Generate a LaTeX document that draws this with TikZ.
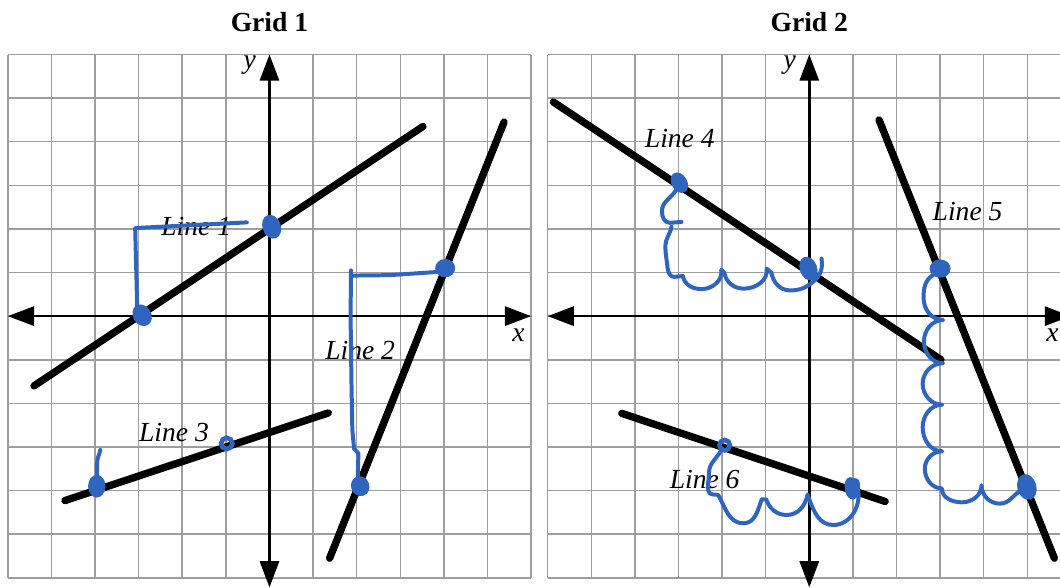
\documentclass[tikz,border=0pt]{standalone}
\usepackage{fontspec}
\setmainfont{Liberation Serif}
\usepackage{xcolor}
\usepackage{tikz}
\usetikzlibrary{arrows.meta}
\definecolor{gridgray}{RGB}{158,158,158}
\definecolor{penblue}{RGB}{47,101,190}
\tikzset{
  gridln/.style={draw=gridgray, line width=1pt},
  axis/.style={{Triangle[length=0.6cm, width=0.44cm]}-{Triangle[length=0.6cm, width=0.44cm]},
    line width=1.6pt},
  graphln/.style={line width=4.8pt, line cap=round},
  pen/.style={draw=penblue, line width=2.6pt, line cap=round, line join=round},
  dotfill/.style={fill=penblue},
  dotring/.style={draw=penblue, line width=3pt},
  lbl/.style={font=\fontsize{18}{20}\selectfont\itshape, inner sep=1pt},
  ttl/.style={font=\fontsize{18}{20}\selectfont\bfseries, inner sep=1pt},
}

\begin{document}
\begin{tikzpicture}
\useasboundingbox (-6.18,-6.22) rectangle (18.13,7.25);
\clip (-6.18,-6.22) rectangle (18.13,7.25);

% Grid 1
\begin{scope}
  \draw[gridln] (-6,-6) grid (6,6);
  \draw[axis] (-6,0) -- (6,0);
  \draw[axis] (0,-6.22) -- (0,6);
  \node[ttl] (title1) at (0,6.74) {Grid 1};
  \node[lbl] (xlab1) at (5.71,-0.44) {x};
  \node[lbl] (ylab1) at (-0.45,5.76) {y};
  % the three lines
  \draw[graphln] (-5.4,-1.6) -- (3.52,4.35);
  \draw[graphln] (1.38,-5.55) -- (5.38,4.45);
  \draw[graphln] (-4.69,-4.23) -- (1.35,-2.22);
  \node[lbl] (line1lbl) at (-1.68,2.06) {Line 1};
  \node[lbl] (line2lbl) at (2.08,-0.78) {Line 2};
  \node[lbl] (line3lbl) at (-2.19,-2.68) {Line 3};
  % pen marks
  \draw[pen] (-3.03,0.06) -- (-3.08,2.02) -- (-0.52,2.15);
  \draw[pen] (2.02,-3.85) -- (2.04,-3.15) -- (1.94,-3.04) -- (1.9,-2.6)
    -- (1.88,-1.5) -- (1.86,0) -- (1.87,1.05);
  \draw[pen] (1.9,0.93) -- (2.76,0.94) -- (3.95,1.02);
  \draw[pen] (-3.95,-3.8) -- (-3.95,-3.35) to[out=90,in=-100] (-3.88,-3.07);
  \fill[dotfill, rotate around={30:(-2.92,0.02)}] (-2.92,0.02) ellipse [x radius=0.21, y radius=0.26];
  \fill[dotfill, rotate around={20:(0.05,2.05)}] (0.05,2.05) ellipse [x radius=0.21, y radius=0.28];
  \fill[dotfill] (4.03,1.1) ellipse [x radius=0.23, y radius=0.21];
  \fill[dotfill, rotate around={20:(2.08,-3.9)}] (2.08,-3.9) ellipse [x radius=0.21, y radius=0.23];
  \fill[dotfill] (-3.96,-3.9) ellipse [x radius=0.2, y radius=0.26];
  \draw[dotring] (-0.98,-2.92) circle [radius=0.13];
\end{scope}

% Grid 2
\begin{scope}[xshift=12.38cm]
  \draw[gridln] (-6,-6) grid (6,6);
  \draw[axis] (-6,0) -- (6,0);
  \draw[axis] (0,-6.22) -- (0,6);
  \node[ttl] (title2) at (0,6.74) {Grid 2};
  \node[lbl] (xlab2) at (5.58,-0.44) {x};
  \node[lbl] (ylab2) at (-0.45,5.76) {y};
  % the three lines
  \draw[graphln] (-5.87,4.91) -- (3.02,-1.0);
  \draw[graphln] (1.6,4.5) -- (5.62,-5.55);
  \draw[graphln] (-4.3,-2.23) -- (1.74,-4.25);
  \node[lbl] (line4lbl) at (-2.97,4.08) {Line 4};
  \node[lbl] (line5lbl) at (3.63,2.41) {Line 5};
  \node[lbl] (line6lbl) at (-2.40,-3.74) {Line 6};
  % pen marks, line 4
  \draw[pen] (-3.05,2.9) to[out=-120,in=90] (-3.38,2.4)
    to[out=-90,in=180] (-3.2,2.14) -- (-2.93,2.16);
  \draw[pen] (-3.16,2.05) to[out=-100,in=90] (-3.3,1.6)
    to[out=-90,in=95] (-3.25,1.1) to[out=-80,in=180] (-3.1,0.9) -- (-2.9,0.92);
  \draw[pen] (-2.9,0.92) to[out=-80,in=180] (-2.47,0.62) to[out=0,in=-80] (-2.02,1.06)
    -- (-1.95,1.0) to[out=-80,in=180] (-1.5,0.63) to[out=0,in=-80] (-0.98,1.09)
    -- (-0.87,1.0) to[out=-80,in=180] (-0.44,0.59) to[out=0,in=-140] (0.09,0.79)
    to[out=40,in=-80] (0.28,1.32);
  % pen marks, line 5
  \draw[pen] (2.85,0.95) to[out=-150,in=90] (2.62,0.42) to[out=-90,in=180] (3.07,-0.09)
    to[out=180,in=90] (2.63,-0.58) to[out=-90,in=180] (3.07,-1.08)
    to[out=180,in=90] (2.6,-1.55) to[out=-90,in=180] (3.05,-2.03)
    to[out=180,in=90] (2.6,-2.55) to[out=-90,in=180] (3.05,-3.1)
    to[out=180,in=90] (2.65,-3.5) to[out=-90,in=180] (3.04,-3.95)
    to[out=-90,in=180] (3.5,-4.27) to[out=0,in=-90] (3.95,-3.88)
    to[out=-90,in=180] (4.37,-4.3) to[out=0,in=-150] (4.85,-4.0);
  % pen marks, line 6
  \draw[pen] (-2.02,-3.08) to[out=-120,in=90] (-2.3,-3.6)
    to[out=-90,in=180] (-2.2,-4.09) -- (-2.09,-4.1)
    to[out=-60,in=180] (-1.51,-4.75) to[out=0,in=-110] (-1.09,-4.2)
    -- (-0.99,-4.2) to[out=-70,in=180] (-0.52,-4.56) to[out=0,in=-100] (-0.04,-4.09)
    -- (0,-4.2) to[out=-70,in=180] (0.55,-4.79) to[out=0,in=-80] (1.12,-3.99)
    to[out=100,in=0] (1.05,-3.76);
  \fill[dotfill, rotate around={30:(-2.98,3.06)}] (-2.98,3.06) ellipse [x radius=0.18, y radius=0.25];
  \fill[dotfill, rotate around={20:(-0.02,1.09)}] (-0.02,1.09) ellipse [x radius=0.2, y radius=0.28];
  \fill[dotfill] (3.0,1.09) ellipse [x radius=0.24, y radius=0.21];
  \fill[dotfill, rotate around={15:(4.99,-3.92)}] (4.99,-3.92) ellipse [x radius=0.22, y radius=0.3];
  \fill[dotfill, rotate around={10:(0.97,-3.95)}] (0.97,-3.95) ellipse [x radius=0.16, y radius=0.26];
  \draw[dotring] (-1.94,-2.96) circle [radius=0.12];
\end{scope}
\end{tikzpicture}
\end{document}
